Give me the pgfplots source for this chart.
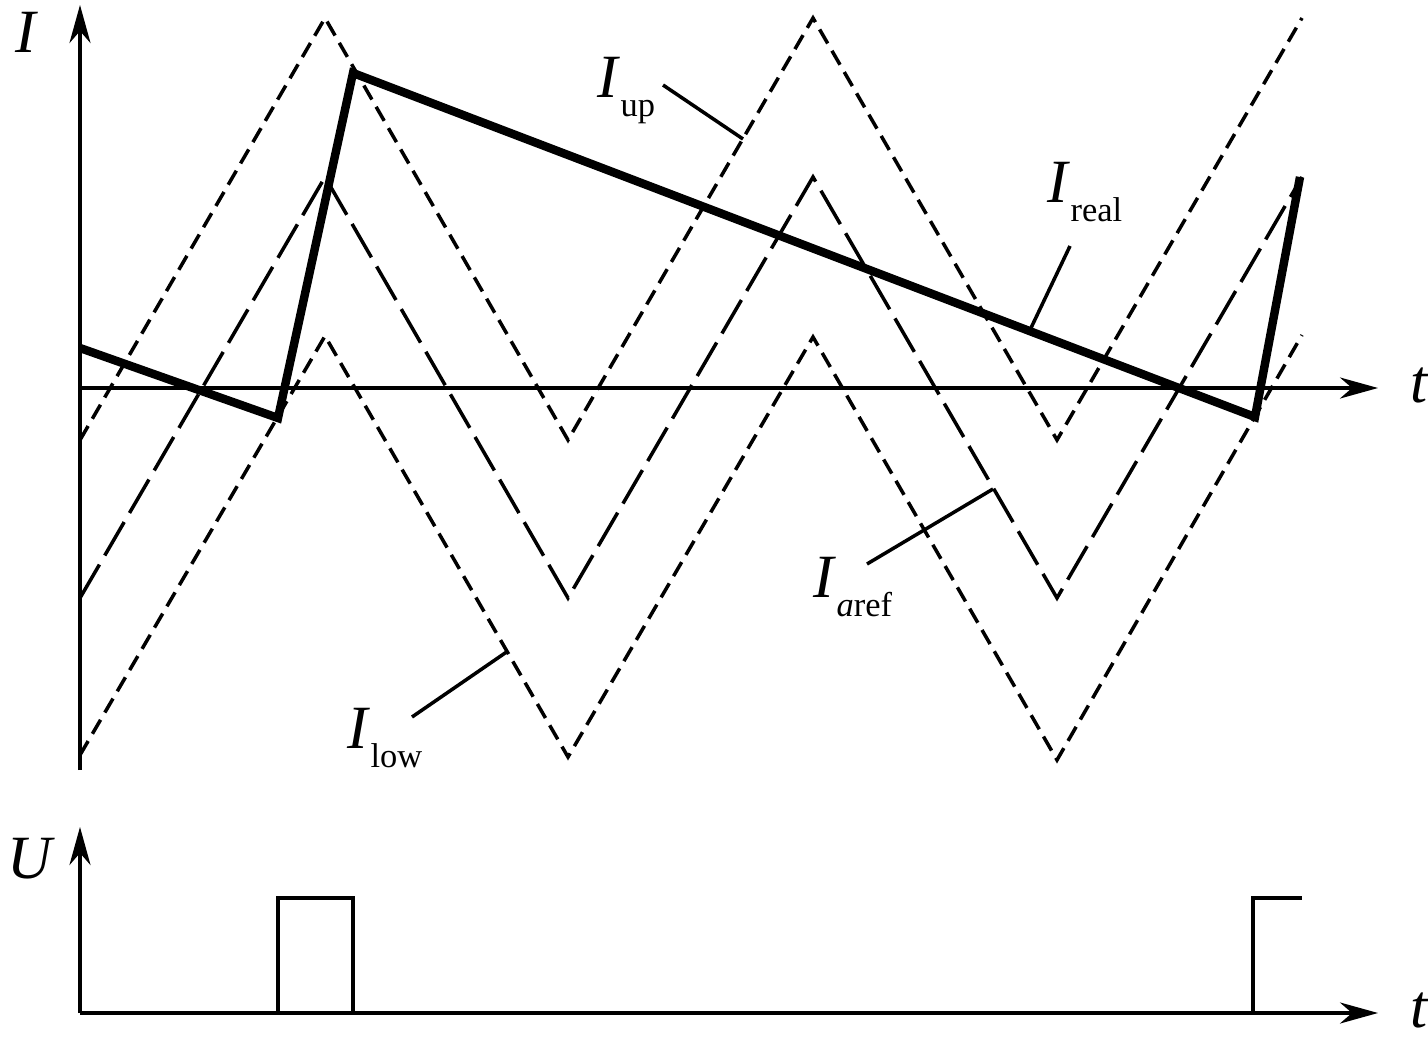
\documentclass[border=0pt]{standalone}
\usepackage{fontspec}
\setmainfont{Liberation Serif}
\usepackage{pgfplots}
\pgfplotsset{compat=1.18}
\usetikzlibrary{arrows.meta}

\newcommand{\bigfont}{\fontsize{17.5}{20}\selectfont}
\newcommand{\lab}[1]{{\bigfont\textit{I}}\raisebox{-5.6pt}{\fontsize{9.8}{11}\selectfont #1}}

\pgfplotsset{
  sketch/.style={
    x={(0.1mm,0)}, y={(0,0.1mm)},
    axis lines=middle, xtick=\empty, ytick=\empty,
    axis line style={line width=1.0pt, -{Stealth[length=3.8mm,width=2.1mm,inset=1.2mm]}},
    clip=false, anchor=origin, xmin=0, xmax=1298,
  },
  wire/.style={line width=1.0pt, line cap=butt},
}

\begin{document}
\begin{tikzpicture}
\path[use as bounding box] (-8mm,38.8mm) rectangle (134.8mm,-65.9mm);

% current waveforms
\begin{axis}[sketch, at={(0,0)}, ymin=-382, ymax=383]
  % I_up
  \addplot[wire, dash pattern=on 4.6pt off 2.4pt] coordinates {
    (0,-52) (245,370) (488,-52) (733,370) (977,-52) (1222,370)};
  % I_aref
  \addplot[wire, dash pattern=on 11pt off 3pt] coordinates {
    (0,-210) (245,211) (488,-210) (733,211) (977,-210) (1222,211)};
  % I_low
  \addplot[wire, dash pattern=on 4.6pt off 2.4pt] coordinates {
    (0,-367) (245,52) (488,-369) (733,51) (977,-372) (1222,53)};
  % I_real
  \addplot[line width=2.4pt, line join=miter] coordinates {
    (0,40) (198,-30) (273,315) (1175,-29) (1220,211)};

  % leader lines
  \addplot[wire] coordinates {(583,303) (663,249)};
  \addplot[wire] coordinates {(990,142) (950,58)};
  \addplot[wire] coordinates {(787,-176) (913,-101)};
  \addplot[wire] coordinates {(332,-329) (428,-263)};

  \node[anchor=base west, inner sep=0] at (axis cs:517,291) {\lab{up}};
  \node[anchor=base west, inner sep=0] at (axis cs:967,186) {\lab{real}};
  \node[anchor=base west, inner sep=0] at (axis cs:733,-209) {\lab{\textit{a}ref}};
  \node[anchor=base west, inner sep=0] at (axis cs:267,-360) {\lab{low}};

  \node[anchor=base west, inner sep=0] at (axis cs:-65,336) {\bigfont\textit{I}};
  \node[anchor=base west, inner sep=0] at (axis cs:1330,-14) {\bigfont\textit{t}};
\end{axis}

% switching voltage
\begin{axis}[sketch, at={(0,-62.5mm)}, ymin=0, ymax=186]
  \addplot[wire, line join=miter] coordinates {
    (0,0) (198,0) (198,115) (273,115) (273,0) (1173,0) (1173,115) (1222,115)};
  \node[anchor=base west, inner sep=0] at (axis cs:-73,135) {\bigfont\textit{U}};
  \node[anchor=base west, inner sep=0] at (axis cs:1330,-14) {\bigfont\textit{t}};
\end{axis}
\end{tikzpicture}
\end{document}
